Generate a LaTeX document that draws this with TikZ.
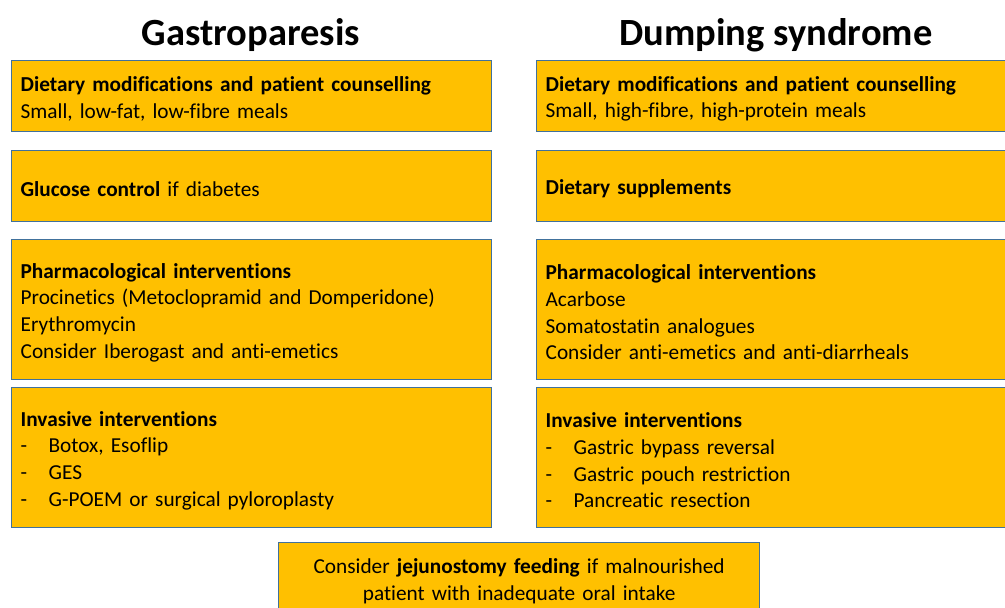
\documentclass[tikz,border=0pt]{standalone}
\usepackage{fontspec}
\setmainfont{Carlito}[Ligatures=NoCommon]
\usepackage{xcolor}
\definecolor{boxfill}{HTML}{FFC000}
\definecolor{boxline}{HTML}{41719C}
\newcommand{\dashitem}[1]{\makebox[28pt][l]{-}#1}

\begin{document}
\begin{tikzpicture}[x=1pt,y=-1pt,
    panel/.style={draw=boxline, line width=1.3pt, fill=boxfill, anchor=north west,
        minimum width=480pt, text width=462pt, inner xsep=9pt, align=left,
        font=\fontsize{21.3}{26.7}\selectfont,
        execute at begin node={\rule{0pt}{20.5pt}}},
    heading/.style={font=\fontsize{38.5}{44}\selectfont\bfseries}]
    \useasboundingbox (0,0) rectangle (1005,608);
    \clip (0,0) rectangle (1005,608);
    % column titles
    \node[heading] (gastro) at (251,35) {Gastroparesis};
    \node[heading] (dumping) at (776,35) {Dumping syndrome};
    % gastroparesis column
    \node[panel, minimum height=71pt] (g1) at (11,60) {\textbf{Dietary modifications and patient counselling}\\Small, low-fat, low-fibre meals};
    \node[panel, minimum height=71pt] (g2) at (11,150) {\textbf{Glucose control} if diabetes};
    \node[panel, minimum height=140pt] (g3) at (11,239) {\textbf{Pharmacological interventions}\\Procinetics (Metoclopramid and Domperidone)\\Erythromycin\\Consider Iberogast and anti-emetics};
    \node[panel, minimum height=140pt] (g4) at (11,387) {\textbf{Invasive interventions}\\\dashitem{Botox, Esoflip}\\\dashitem{GES}\\\dashitem{G-POEM or surgical pyloroplasty}};
    % dumping syndrome column
    \node[panel, minimum height=71pt] (d1) at (536,60) {\textbf{Dietary modifications and patient counselling}\\Small, high-fibre, high-protein meals};
    \node[panel, minimum height=71pt] (d2) at (536,150) {\textbf{Dietary supplements}};
    \node[panel, minimum height=140pt] (d3) at (536,239) {\textbf{Pharmacological interventions}\\Acarbose\\Somatostatin analogues\\Consider anti-emetics and anti-diarrheals};
    \node[panel, minimum height=140pt] (d4) at (536,387) {\textbf{Invasive interventions}\\\dashitem{Gastric bypass reversal}\\\dashitem{Gastric pouch restriction}\\\dashitem{Pancreatic resection}};
    % shared bottom box
    \node[panel, minimum width=481pt, text width=463pt, align=center, minimum height=72pt] (jej) at (278,542) {Consider \textbf{jejunostomy feeding} if malnourished\\patient with inadequate oral intake};
\end{tikzpicture}
\end{document}
